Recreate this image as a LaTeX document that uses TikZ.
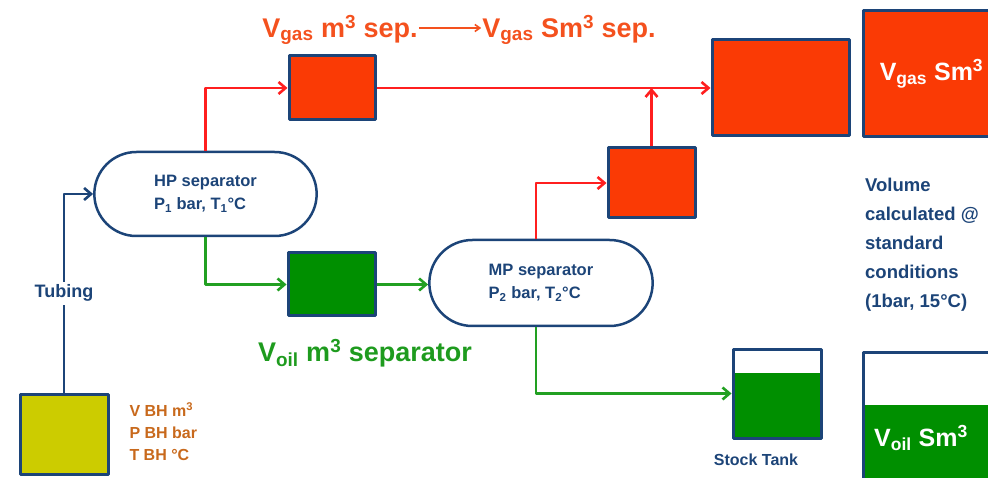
\documentclass[tikz,border=0pt]{standalone}
\usepackage{fontspec}
\setmainfont{Liberation Sans}
\setsansfont{Liberation Sans}
\usetikzlibrary{shapes.misc,arrows.meta}

\definecolor{navy}{HTML}{1C4478}
\definecolor{bhyellow}{HTML}{CCCC00}
\definecolor{gasfill}{HTML}{FA3A05}
\definecolor{oilfill}{HTML}{008F00}
\definecolor{gasline}{HTML}{FF1F1F}
\definecolor{oilline}{HTML}{22A022}
\definecolor{gastext}{HTML}{F4511E}
\definecolor{oiltext}{HTML}{1E9B1E}
\definecolor{bhtext}{HTML}{C8691C}

\begin{document}
\begin{tikzpicture}[x=1pt, y=-1pt, line join=round,
  vessel/.style={draw=navy, line width=3pt, inner sep=0pt},
  separator/.style={rounded rectangle, draw=navy, line width=2.5pt, align=left,
    text=navy, font=\fontsize{16.5}{23}\selectfont\bfseries},
  flow/.style={line width=2.6pt, -{Straight Barb[length=7pt,width=12pt]}},
  gasflow/.style={flow, draw=gasline},
  oilflow/.style={flow, draw=oilline},
  tubeflow/.style={flow, draw=navy}]

  %% ════ 容器（井底、分离器、计量箱）════
  \node[vessel, fill=bhyellow, minimum width=88, minimum height=80] (bhbox) at (64,434) {};
  \node[separator, minimum width=229, minimum height=84] (hpsep) at (205.5,194)
    {HP separator\\P\textsubscript{1} bar, T\textsubscript{1}°C};
  \node[separator, minimum width=230, minimum height=86] (mpsep) at (541,283)
    {MP separator\\P\textsubscript{2} bar, T\textsubscript{2}°C};
  \node[vessel, fill=gasfill, minimum width=86, minimum height=64] (gasA) at (332,88) {};
  \node[vessel, fill=gasfill, minimum width=87, minimum height=70] (gasB) at (651.5,183) {};
  \node[vessel, fill=gasfill, minimum width=137, minimum height=96] (gasbig) at (780.5,88) {};
  \node[vessel, fill=oilfill, minimum width=87, minimum height=63] (oilA) at (331.5,284.5) {};
  \node[vessel, fill=white, minimum width=88, minimum height=89,
    path picture={\fill[oilfill] (path picture bounding box.south west)
      rectangle ([yshift=-24pt]path picture bounding box.north east);}] (tank) at (777,393.5) {};

  %% ════ 标准状态（右侧，被画布截断）════
  \node[vessel, fill=gasfill, minimum width=137, minimum height=126, text=white,
    font=\fontsize{25}{30}\selectfont\bfseries] (gasstd) at (931.5,74)
    {V\textsubscript{gas} Sm\textsuperscript{3}};
  \node[vessel, fill=white, minimum width=137, minimum height=150,
    path picture={\fill[oilfill] (path picture bounding box.south west)
      rectangle ([yshift=-53pt]path picture bounding box.north east);}] (oilstd) at (931.5,427) {};
  \node[text=white, font=\fontsize{25}{30}\selectfont\bfseries] (oilstdlab) at (921,438)
    {V\textsubscript{oil} Sm\textsuperscript{3}};

  %% ════ 流线 ════
  \draw[tubeflow] (bhbox.north) |- node[pos=0.25, fill=white, text=navy, inner sep=3pt,
    font=\fontsize{18}{22}\selectfont\bfseries] (tubing) {Tubing} (hpsep.west);
  \draw[gasflow] (hpsep.north) |- (gasA.west);
  \draw[gasflow] (gasA.east) -- (gasbig.west);
  \draw[oilflow] (hpsep.south) |- (oilA.west);
  \draw[oilflow] (oilA.east) -- (oilA.east -| mpsep.west);
  \draw[gasflow] ([xshift=-5pt]mpsep.north) |- (gasB.west);
  \draw[gasflow] (gasB.north) -- (gasB.north |- gasA.east);
  \draw[oilflow] ([xshift=-5pt]mpsep.south) |- (tank.west);

  %% ════ 标签 ════
  \node[text=gastext, font=\fontsize{27}{32}\selectfont\bfseries, inner sep=1pt] (vgasA) at (340,30)
    {V\textsubscript{gas} m\textsuperscript{3} sep.};
  \node[text=gastext, font=\fontsize{27}{32}\selectfont\bfseries, inner sep=1pt] (vgasB) at (569,30)
    {V\textsubscript{gas} Sm\textsuperscript{3} sep.};
  \draw[draw=gastext, line width=1.6pt, -{Straight Barb[length=5pt,width=7pt]}]
    ([yshift=2pt]vgasA.east) -- ([yshift=2pt]vgasB.west);
  \node[text=oiltext, font=\fontsize{27}{32}\selectfont\bfseries] (voilsep) at (365,353)
    {V\textsubscript{oil} m\textsuperscript{3} separator};
  \node[anchor=west, align=left, text=bhtext, font=\fontsize{16}{22}\selectfont\bfseries] (bhlab) at (126,432)
    {V BH m\textsuperscript{3}\\P BH bar\\T BH °C};
  \node[text=navy, font=\fontsize{16}{20}\selectfont\bfseries] (tanklab) at (756,460) {Stock Tank};
  \node[anchor=north west, align=left, text=navy, inner sep=0pt,
    font=\fontsize{18.5}{29}\selectfont\bfseries] (stdlab) at (865,178)
    {Volume\\calculated @\\standard\\conditions\\(1bar, 15°C)};

  \pgfresetboundingbox
  \path[use as bounding box] (0,0) rectangle (988,478);
\end{tikzpicture}
\end{document}
